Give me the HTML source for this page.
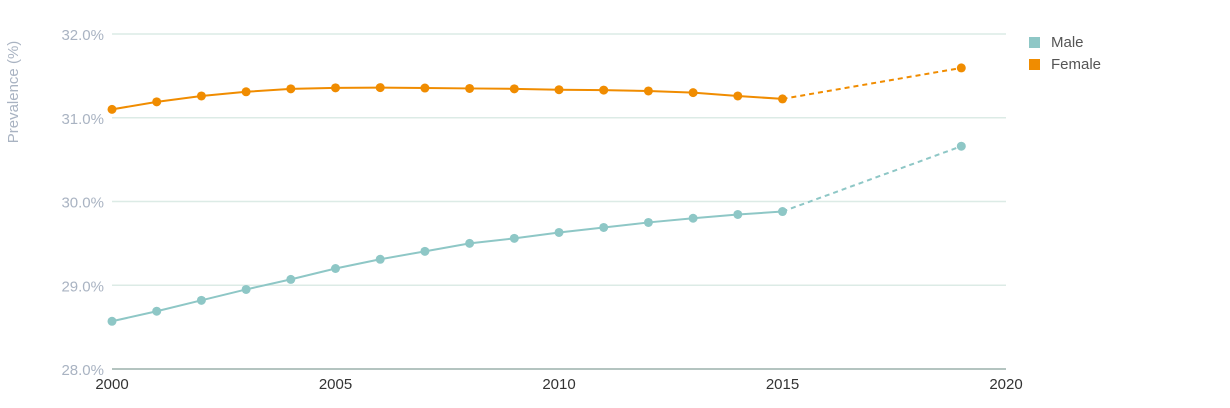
<!DOCTYPE html>
<html><head><meta charset="utf-8"><style>
body{margin:0;background:#fff;width:1230px;height:403px;overflow:hidden;font-family:"Liberation Sans",sans-serif}
</style></head><body>
<svg id="chart" width="1230" height="403" xmlns="http://www.w3.org/2000/svg">
<text transform="translate(18,92) rotate(-90)" text-anchor="middle" font-size="15" fill="#a9b3c2">Prevalence (%)</text>
<g id="grid"></g><g id="series"></g>
<g>
<rect x="1029" y="37" width="11" height="11" fill="#8ec7c6"/>
<text x="1051" y="47" font-size="15" fill="#555">Male</text>
<rect x="1029" y="59" width="11" height="11" fill="#f08c00"/>
<text x="1051" y="69" font-size="15" fill="#555">Female</text>
</g>
</svg>
<script>
const years=[2000,2001,2002,2003,2004,2005,2006,2007,2008,2009,2010,2011,2012,2013,2014,2015,2019];
const female=[31.10,31.19,31.26,31.31,31.345,31.357,31.36,31.355,31.35,31.345,31.335,31.33,31.32,31.30,31.26,31.225,31.595];
const male=[28.57,28.69,28.82,28.95,29.07,29.20,29.31,29.405,29.50,29.56,29.63,29.69,29.75,29.80,29.845,29.88,30.66];
const yTicks=[28,29,30,31,32];
const xTicks=[2000,2005,2010,2015,2020];
const NS="http://www.w3.org/2000/svg";
const x=v=>112+(v-2000)*(1006-112)/20;
const y=v=>369-(v-28)*(369-34)/4;
function mk(t,a,p){const e=document.createElementNS(NS,t);for(const k in a)e.setAttribute(k,a[k]);p.appendChild(e);return e;}
const g=document.getElementById('grid');
yTicks.forEach(t=>{
 const l=mk('line',{x1:112,x2:1006,y1:y(t),y2:y(t),stroke:t===28?'#b4c4c0':'#dcebe6','stroke-width':t===28?2:1.5},g);
 
 
 const tx=mk('text',{x:104,y:y(t)+6,'text-anchor':'end','font-size':15,fill:'#a9b3c2'},g);
 tx.textContent=t.toFixed(1)+'%';
 
 
});
xTicks.forEach(t=>{
 const tx=mk('text',{x:x(t),y:389,'text-anchor':'middle','font-size':15,fill:'#333'},g);
 tx.textContent=t;
 
 
});
const s=document.getElementById('series');
function draw(vals,color,name){
 const n=vals.length;
 const pts=vals.slice(0,n-1).map((v,i)=>x(years[i])+','+y(v)).join(' ');
 const pl=mk('polyline',{points:pts,fill:'none',stroke:color,'stroke-width':2},s);
 
 
 const d=mk('line',{x1:x(years[n-2]),y1:y(vals[n-2]),x2:x(years[n-1]),y2:y(vals[n-1]),stroke:color,'stroke-width':2,'stroke-dasharray':'5,4'},s);
 
 
 vals.forEach((v,i)=>{
  const c=mk('circle',{cx:x(years[i]),cy:y(v),r:4.5,fill:color},s);
  
  
 });
}
draw(male,'#8ec7c6','male');
draw(female,'#f08c00','female');
</script>
</body></html>
